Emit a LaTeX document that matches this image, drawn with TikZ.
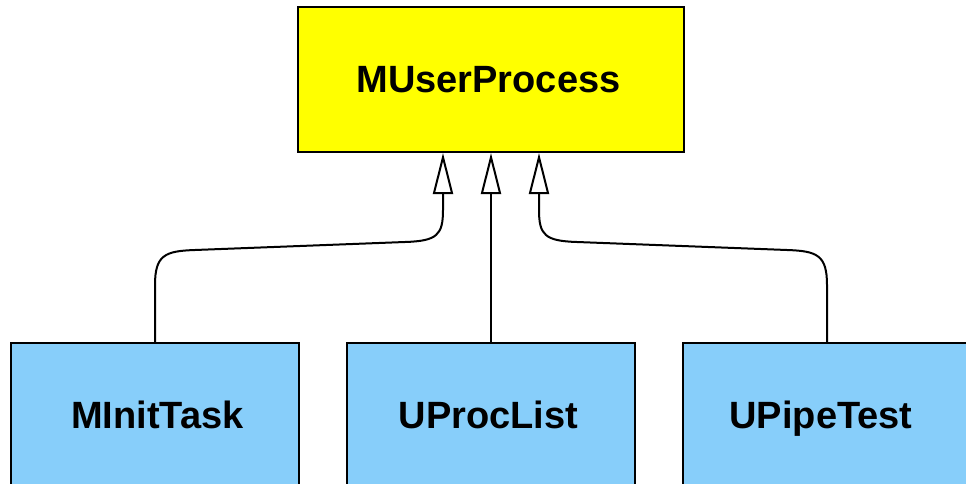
\documentclass[tikz,border=0pt]{standalone}
\usepackage{fontspec}
\setmainfont{Liberation Sans}
\usetikzlibrary{arrows.meta,calc}
\definecolor{boxyellow}{RGB}{255,255,0}
\definecolor{boxblue}{RGB}{135,206,250}
\begin{document}
\begin{tikzpicture}[x=1pt,y=-1pt,
  classbox/.style={draw=black,line width=2pt,inner sep=0pt,
    text height=27pt,text depth=0pt,
    font=\fontsize{38}{44}\selectfont\bfseries},
  parentbox/.style={classbox,fill=boxyellow,minimum width=386pt,minimum height=145pt},
  childbox/.style={classbox,fill=boxblue,minimum width=288pt,minimum height=144pt},
  inherit/.style={draw=black,line width=2pt,
    -{Triangle[open,length=41pt,width=20pt,line width=2pt]}}]
  \useasboundingbox (0,0) rectangle (966,484);

  % base class and its three subclasses
  \node[parentbox] (p) at (491,79.5) {\hspace*{-5pt}MUserProcess};
  \node[childbox] (a) at (155,415) {\hspace*{5pt}MInitTask};
  \node[childbox] (b) at (491,415) {\hspace*{-5pt}UProcList};
  \node[childbox] (c) at (827,415) {\hspace*{-12pt}UPipeTest};

  % arrow targets on the lower edge of the base class
  \coordinate (pa) at ($(p.south)+(-48,0)$);
  \coordinate (pc) at ($(p.south)+(48,0)$);

  % generalisation arrows
  \draw[inherit] (a.north) -- (155,285)
     .. controls (155,255) and (165,251) .. (195,250)
     -- (405,242)
     .. controls (437,241) and (443,235) .. (443,210) -- (pa);
  \draw[inherit] (b.north) -- (p.south);
  \draw[inherit] (c.north) -- (827,285)
     .. controls (827,255) and (817,251) .. (787,250)
     -- (577,242)
     .. controls (545,241) and (539,235) .. (539,210) -- (pc);
\end{tikzpicture}
\end{document}
